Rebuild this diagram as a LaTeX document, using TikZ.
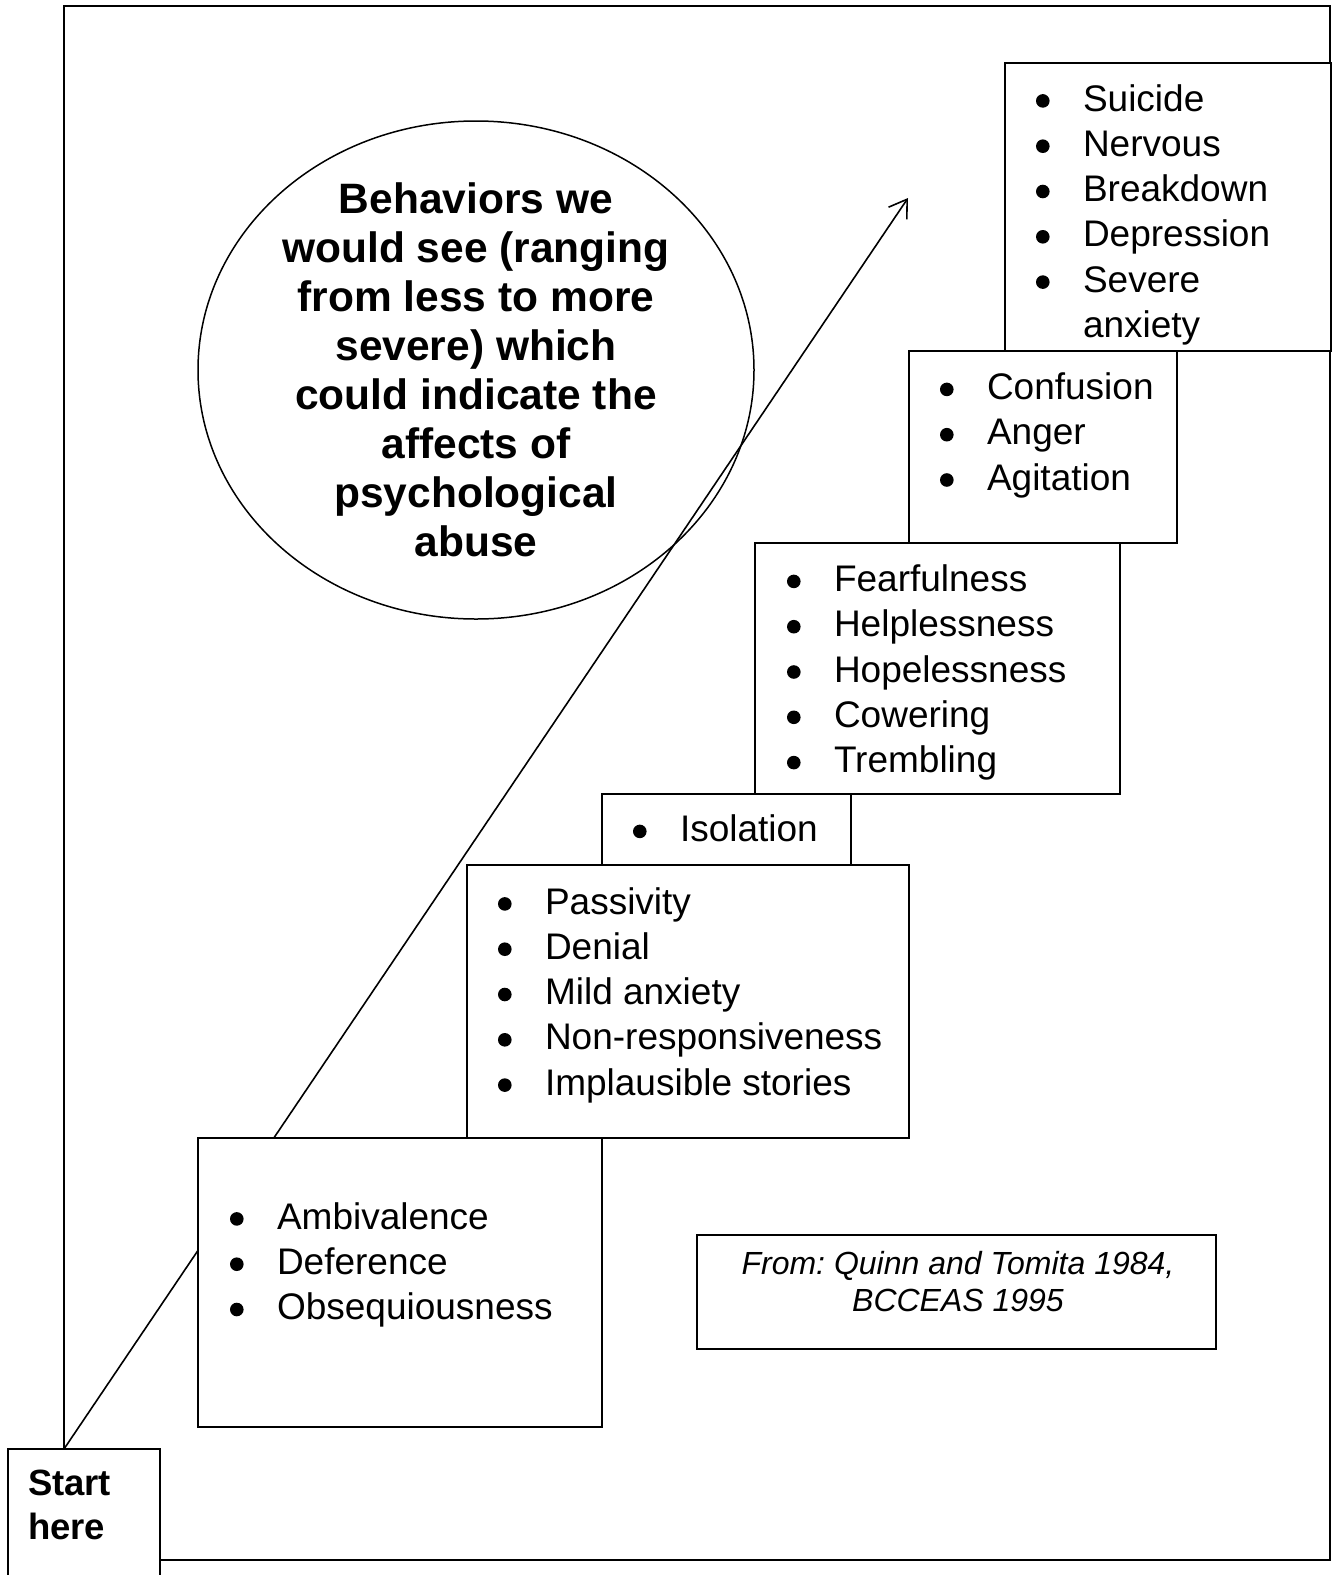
\documentclass[tikz,border=0pt]{standalone}
\usepackage{fontspec}
\setmainfont{Liberation Sans}
\usetikzlibrary{arrows.meta,shapes.geometric}
\newcommand{\bdot}{\raisebox{3.3pt}{\tikz\fill[black] (0,0) circle (6.8pt);}}
\newcommand{\bl}[1]{\makebox[47pt][l]{\bdot}#1}
\newcommand{\nb}[1]{\makebox[47pt][l]{}#1}
\newcommand{\blist}[1]{{\fontsize{37}{45.3}\selectfont\begin{tabular}[t]{@{}l@{}}#1\end{tabular}}}
\tikzset{
  box/.style={draw, line width=2pt, fill=white, inner sep=0pt, outer sep=0pt, anchor=north west},
  lst/.style={anchor=base west, inner sep=0pt, outer sep=0pt},
  frame/.style={draw, line width=2.4pt},
  arr/.style={line width=1.6pt, -{Straight Barb[length=17pt,width=22pt,line width=1.6pt]}},
}
\begin{document}
\frenchspacing
\begin{tikzpicture}[x=1pt,y=-1pt]
\useasboundingbox (0,0) rectangle (1333,1575);
\clip (0,0) rectangle (1333,1575);
% outer frame
\draw[frame] (64,6) rectangle (1330,1560);
% ellipse
\node[draw, ellipse, line width=1.5pt, minimum width=556pt, minimum height=498pt, inner sep=0pt] (ell) at (476,370) {};
\node[anchor=base, inner sep=0pt] (elltext) at (476,213)
  {\fontsize{42.5}{49}\selectfont\bfseries\begin{tabular}[t]{@{}c@{}}Behaviors we\\would see (ranging\\from less to more\\severe) which\\could indicate the\\affects of\\psychological\\abuse\end{tabular}};
% arrow
\coordinate (astart) at (64,1449);
\coordinate (atip) at (908,198);
\draw[arr] (astart) -- (atip);
% boxes
\node[box, minimum width=404pt, minimum height=289pt] (b1) at (198,1138) {};
\node[box, minimum width=442pt, minimum height=273pt] (b2) at (467,865) {};
\node[box, minimum width=249pt, minimum height=71pt] (b3) at (602,794) {};
\node[box, minimum width=365pt, minimum height=251pt] (b4) at (755,543) {};
\node[box, minimum width=268pt, minimum height=192pt] (b5) at (909,351) {};
\node[box, minimum width=326pt, minimum height=288pt] (b6) at (1005,63) {};
\node[box, minimum width=519pt, minimum height=114pt] (cite) at (697,1235) {};
% lists
\node[lst] (t1) at (230,1229) {\blist{\bl{Ambivalence}\\\bl{Deference}\\\bl{Obsequiousness}}};
\node[lst] (t2) at (498,914) {\blist{\bl{Passivity}\\\bl{Denial}\\\bl{Mild anxiety}\\\bl{Non-responsiveness}\\\bl{Implausible stories}}};
\node[lst] (t3) at (633,841.5) {\blist{\bl{Isolation}}};
\node[lst] (t4) at (787,591.5) {\blist{\bl{Fearfulness}\\\bl{Helplessness}\\\bl{Hopelessness}\\\bl{Cowering}\\\bl{Trembling}}};
\node[lst] (t5) at (940,399.5) {\blist{\bl{Confusion}\\\bl{Anger}\\\bl{Agitation}}};
\node[lst] (t6) at (1036,111) {\blist{\bl{Suicide}\\\bl{Nervous}\\\bl{Breakdown}\\\bl{Depression}\\\bl{Severe}\\\nb{anxiety}}};
% citation
\node[anchor=base, inner sep=0pt] (citetext) at (958,1274)
  {\fontsize{32}{37}\selectfont\itshape\begin{tabular}[t]{@{}c@{}}From: Quinn and Tomita 1984,\\BCCEAS 1995\end{tabular}};
% start box
\node[box, minimum width=152pt, minimum height=160pt] (start) at (8,1449) {};
\node[lst] (starttext) at (28,1495)
  {\fontsize{36.5}{44}\selectfont\bfseries\begin{tabular}[t]{@{}l@{}}Start\\here\end{tabular}};
\end{tikzpicture}
\end{document}
